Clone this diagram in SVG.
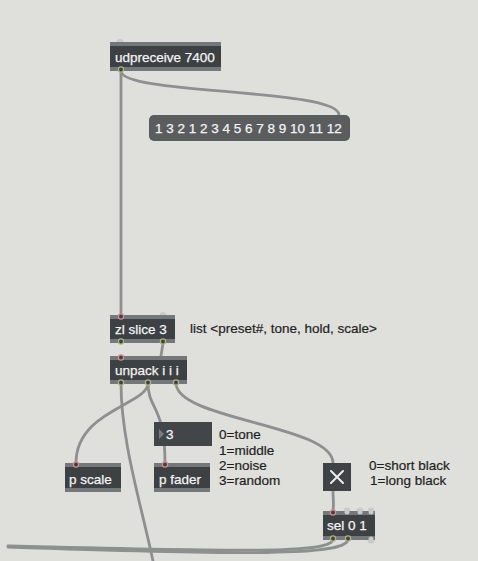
<svg xmlns="http://www.w3.org/2000/svg" width="478" height="561" viewBox="0 0 478 561">
<style>
.bg{fill:#dfdfdb}
.strip{fill:#75787a}
.body{fill:#3e4144}
.t{font-family:"Liberation Sans",Arial,sans-serif;font-size:13.5px;fill:#f4f4f4;stroke:#f4f4f4;stroke-width:0.25}
.c{font-family:"Liberation Sans",Arial,sans-serif;font-size:13.5px;fill:#1e1e1e;stroke:#1e1e1e;stroke-width:0.2}
.cord{fill:none;stroke:#8e908f;stroke-width:2.8;stroke-linecap:round}
.in{fill:#3f4245;stroke:#cf8e94;stroke-width:1.3}
.out{fill:#3f4245;stroke:#aeb27f;stroke-width:1.3}
.bump{fill:#c9cac9}
</style>
<rect class="bg" x="0" y="0" width="478" height="561"/>

<g id="connectors">
  <path class="cord" d="M121,71 L121,316"/>
  <path class="cord" d="M121,71 C121,95 339,88 339,115"/>
  <path class="cord" d="M163,343 L161,356"/>
  <path class="cord" d="M121,383 C121,440 140,500 153,561"/>
  <path class="cord" d="M148,383 C148,405 76,410 76,463"/>
  <path class="cord" d="M148,383 C148,410 165,405 165,463"/>
  <path class="cord" d="M176,383 C176,420 333,425 333,463"/>
  <path class="cord" d="M333,491 C333,498 334,504 333,511"/>
  <path class="cord" d="M333,540 C328,553 250,552 8,546"/>
  <path class="cord" d="M348,540 C343,556 250,555 8,547"/>
</g>

<g id="udpreceive">
  <circle class="bump" cx="120" cy="42.5" r="3.5"/>
  <rect class="strip" x="110" y="42" width="111" height="29"/>
  <rect class="body" x="110" y="46" width="111" height="21"/>
  <text class="t" x="115" y="62">udpreceive 7400</text>
  <circle class="out" cx="121" cy="69.5" r="2.6"/>
</g>

<g id="message">
  <rect x="149" y="115" width="201" height="26" rx="5" fill="#5a5c5e"/>
  <text class="t" x="155" y="132.5">1 3 2 1 2 3 4 5 6 7 8 9 10 11 12</text>
</g>

<g id="zlslice">
  <circle class="bump" cx="163" cy="315.5" r="3.5"/>
  <rect class="strip" x="110" y="315" width="65" height="28"/>
  <rect class="body" x="110" y="319" width="65" height="20"/>
  <text class="t" x="115" y="334">zl slice 3</text>
  <circle class="in" cx="121" cy="316.5" r="2.6"/>
  <circle class="out" cx="121" cy="341.5" r="2.6"/>
  <circle class="out" cx="163" cy="341.5" r="2.6"/>
</g>

<g id="comment-list">
  <text class="c" x="190" y="333">list &lt;preset#, tone, hold, scale&gt;</text>
</g>

<g id="unpack">
  <rect class="strip" x="110" y="356" width="77" height="28"/>
  <rect class="body" x="110" y="360" width="77" height="20"/>
  <text class="t" x="115" y="375">unpack i i i</text>
  <circle class="in" cx="121" cy="357.5" r="2.6"/>
  <circle class="out" cx="121" cy="382.5" r="2.6"/>
  <circle class="out" cx="148" cy="382.5" r="2.6"/>
  <circle class="out" cx="176" cy="382.5" r="2.6"/>
</g>

<g id="number">
  <rect x="154" y="422" width="58" height="24" fill="#434649"/>
  <path d="M159,429 L164,434 L159,439 Z" fill="#7a7c7d"/>
  <text class="t" x="166" y="439">3</text>
</g>

<g id="comment-fader">
  <text class="c" x="219" y="439">0=tone</text>
  <text class="c" x="219" y="455">1=middle</text>
  <text class="c" x="219" y="470">2=noise</text>
  <text class="c" x="219" y="485">3=random</text>
</g>

<g id="pscale">
  <rect class="strip" x="65" y="463" width="56" height="29"/>
  <rect class="body" x="65" y="467" width="56" height="21"/>
  <text class="t" x="69" y="484">p scale</text>
  <circle class="in" cx="76" cy="464.5" r="2.6"/>
</g>

<g id="pfader">
  <rect class="strip" x="154" y="463" width="56" height="29"/>
  <rect class="body" x="154" y="467" width="56" height="21"/>
  <text class="t" x="159" y="484">p fader</text>
  <circle class="in" cx="165" cy="464.5" r="2.6"/>
</g>

<g id="toggle">
  <rect x="323" y="463" width="28" height="28" fill="#404346"/>
  <path d="M331,471 L343,483 M343,471 L331,483" stroke="#ececec" stroke-width="2" stroke-linecap="round" fill="none"/>
</g>

<g id="comment-toggle">
  <text class="c" x="369" y="470">0=short black</text>
  <text class="c" x="370" y="485">1=long black</text>
</g>

<g id="sel">
  <circle class="bump" cx="347" cy="511" r="3.5"/>
  <circle class="bump" cx="360" cy="511" r="3.5"/>
  <circle class="bump" cx="371" cy="511" r="3.5"/>
  <circle class="bump" cx="371" cy="540" r="3.5"/>
  <rect class="strip" x="323" y="511" width="52" height="29"/>
  <rect class="body" x="323" y="515" width="52" height="21"/>
  <circle class="bump" cx="347" cy="512" r="2.5"/>
  <circle class="bump" cx="360" cy="512" r="2.5"/>
  <circle class="bump" cx="371" cy="512" r="2.5"/>
  <circle class="bump" cx="371" cy="539" r="2.5"/>
  <text class="t" x="327" y="530">sel 0 1</text>
  <circle class="in" cx="333" cy="512.5" r="2.6"/>
  <circle class="out" cx="333" cy="538.5" r="2.6"/>
  <circle class="out" cx="348" cy="538.5" r="2.6"/>
</g>
</svg>
